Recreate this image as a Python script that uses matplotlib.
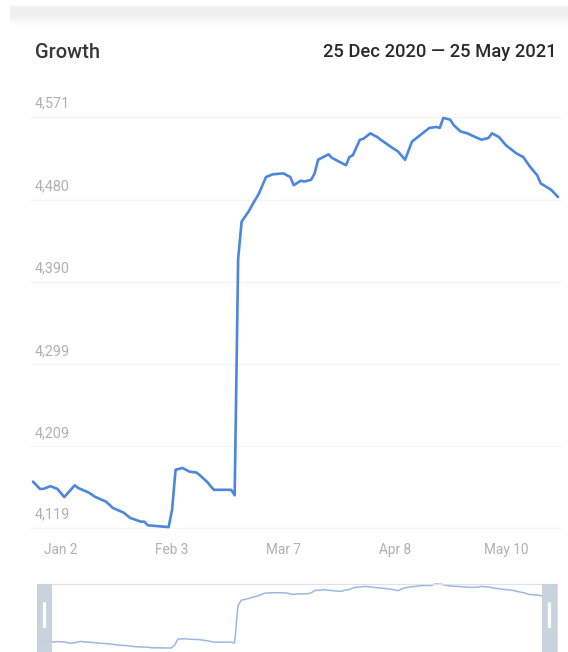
import matplotlib
matplotlib.use('Agg')
import matplotlib.pyplot as plt
import numpy as np
import pandas as pd
from matplotlib.patches import Rectangle, FancyBboxPatch

plt.rcParams['font.family'] = ['Roboto', 'DejaVu Sans']

# ---------------- data ----------------
start_date = '2020-12-25'
day_offsets = [0, 2, 3, 5, 7, 9, 12, 13, 16, 18, 21, 23, 26, 28, 31, 32, 33, 36, 39,
               40, 41, 43, 45, 47, 48, 50, 52, 55, 57, 58, 59, 60, 62, 63, 65, 67, 69,
               72, 74, 75, 77, 78, 80, 81, 82, 85, 86, 88, 90, 91, 92, 94, 95, 97, 99,
               100, 103, 105, 107, 109, 112, 114, 116, 117, 118, 120, 121, 123, 125,
               126, 129, 131, 132, 134, 136, 139, 141, 143, 145, 146, 149, 151]
followers = [4170, 4162, 4162, 4165, 4162, 4153, 4166, 4163, 4158, 4153, 4148, 4141,
             4136, 4130, 4126, 4126, 4122, 4121, 4120, 4139, 4183, 4185, 4181, 4180,
             4177, 4170, 4161, 4161, 4161, 4155, 4415, 4456, 4467, 4474, 4487, 4505,
             4508, 4509, 4505, 4496, 4501, 4500, 4502, 4509, 4524, 4530, 4526, 4522,
             4518, 4527, 4529, 4546, 4547, 4553, 4549, 4546, 4538, 4533, 4524, 4544,
             4553, 4559, 4560, 4559, 4570, 4568, 4562, 4555, 4553, 4551, 4546, 4548,
             4553, 4549, 4540, 4531, 4527, 4516, 4507, 4498, 4491, 4483]
y_levels = [4119, 4209, 4299, 4390, 4480, 4571]
y_labels = ['4,119', '4,209', '4,299', '4,390', '4,480', '4,571']
x_tick_dates = ['2021-01-02', '2021-02-03', '2021-03-07', '2021-04-08', '2021-05-10']
x_tick_labels = ['Jan 2', 'Feb 3', 'Mar 7', 'Apr 8', 'May 10']
title_text = 'Growth'
range_text = '25 Dec 2020 \u2014 25 May 2021'

# ---------------- layout ----------------
W, H = 568, 652
fig = plt.figure(figsize=(W / 100, H / 100), dpi=100)
fig.patch.set_facecolor('white')


def px(l, t, r, b):
    return [l / W, 1 - b / H, (r - l) / W, (b - t) / H]


# top shadow band
band = fig.add_axes(px(10, 4, W, 26))
grad = np.concatenate([np.linspace(0.0, 1.0, 4), np.ones(8), np.linspace(1.0, 0.0, 10)])
img = np.ones((len(grad), 2, 3))
shade = 1 - 0.055 * grad
img[:, :, 0] = shade[:, None]
img[:, :, 1] = shade[:, None]
img[:, :, 2] = shade[:, None]
band.imshow(img, aspect='auto', interpolation='bilinear', extent=[0, 1, 0, 1])
band.axis('off')

# header texts
fig.text(35 / W, 1 - 52 / H, title_text, ha='left', va='center', fontsize=14.5,
         fontweight='medium', color='#383838')
fig.text(557 / W, 1 - 52 / H, range_text, ha='right', va='center', fontsize=13.2,
         fontweight='medium', color='#2a2a2a')

# main chart
start = pd.Timestamp(start_date)
dates = start + pd.to_timedelta(day_offsets, unit='D')
ax = fig.add_axes(px(30, 100, 562, 535))
ax.set_facecolor('none')
ax.plot(dates, followers, color='#4c86dd', lw=1.9, solid_joinstyle='round',
        solid_capstyle='round', zorder=3)
ax.set_xlim(start - pd.Timedelta(days=0.863), start + pd.Timedelta(days=152.14))
ax.set_ylim(4111.3, 4589.7)
for s in ax.spines.values():
    s.set_visible(False)
ax.set_yticks([])
ax.set_xticks(pd.to_datetime(x_tick_dates))
ax.set_xticklabels(x_tick_labels, color='#b0b0b0', fontsize=9.8)
ax.tick_params(axis='x', length=0, pad=6)
for v, lab in zip(y_levels, y_labels):
    ax.axhline(v, color='#f4f4f4', lw=0.9, zorder=0)
    ax.annotate(lab, xy=(5 / 532, v), xycoords=('axes fraction', 'data'),
                xytext=(0, 9.6), textcoords='offset points', ha='left', va='center',
                color='#b0b0b0', fontsize=10.4)

# navigator
nav = fig.add_axes(px(37, 584, 557, 652))
nav.set_facecolor('white')
nav.set_xlim(-1.2, 154.6)
nav.set_ylim(4091.9, 4570.0)
nav.plot(day_offsets, followers, color='#9db7e2', lw=1.1, zorder=2, clip_on=False)
for s in nav.spines.values():
    s.set_visible(False)
for side in ('top', 'left', 'right'):
    nav.spines[side].set_visible(True)
    nav.spines[side].set_color('#dde2e8')
nav.set_xticks([])
nav.set_yticks([])
hw = 15 / 520
for x0 in (0, 1 - hw):
    nav.add_patch(Rectangle((x0, 0), hw, 1, transform=nav.transAxes,
                            facecolor='#c6d1dd', edgecolor='none', zorder=4, alpha=0.95))
    nav.add_patch(FancyBboxPatch((x0 + hw / 2 - 1.6 / 520, 0.35), 3.2 / 520, 0.38,
                                 boxstyle='round,pad=0,rounding_size=0.004',
                                 transform=nav.transAxes, facecolor='white',
                                 edgecolor='none', zorder=5))

fig.savefig('out.png', dpi=100, facecolor='white')
